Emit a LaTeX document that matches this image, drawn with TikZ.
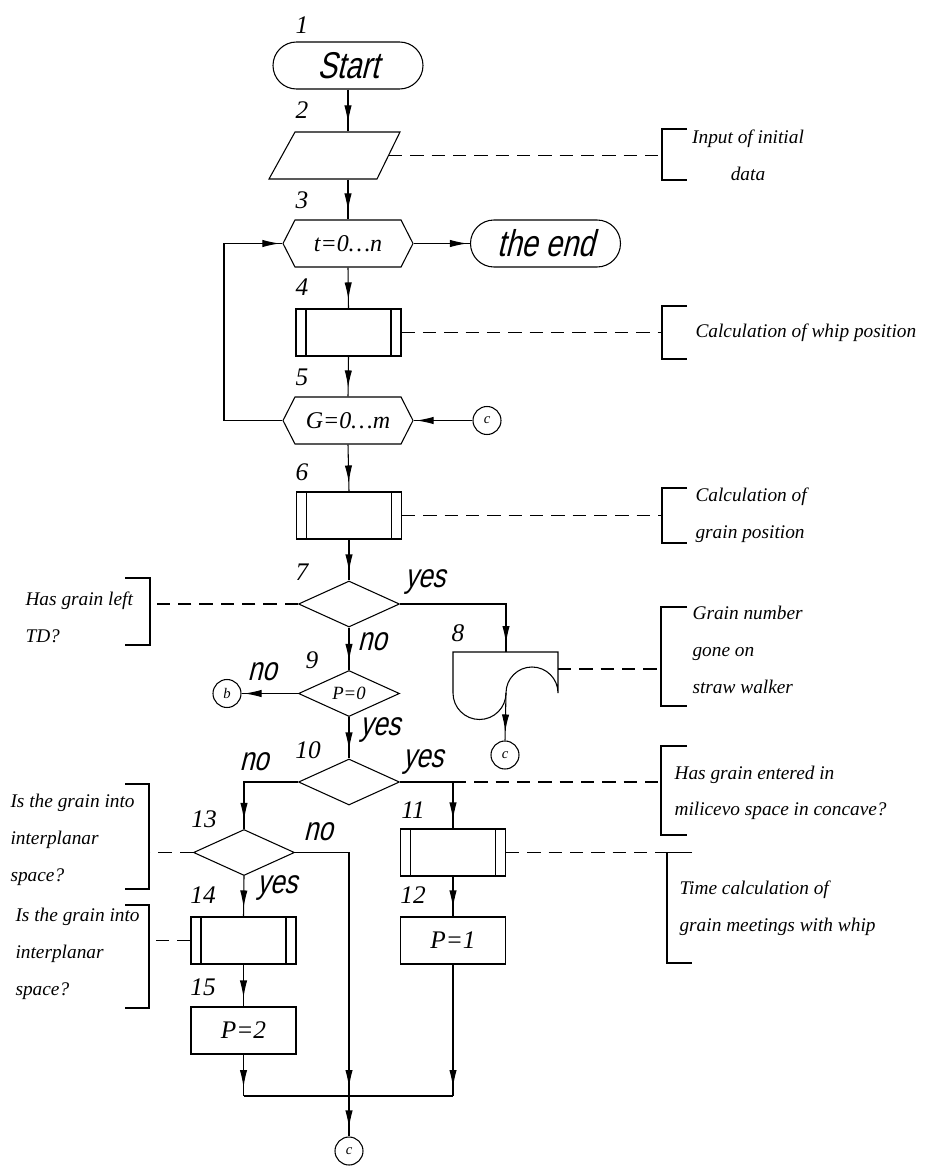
\documentclass[tikz,border=0pt]{standalone}
\usepackage{fontspec}
\setmainfont{Liberation Serif}
\newfontfamily\gostfont[FakeSlant=0.25,FakeStretch=0.78]{Liberation Sans}
\usetikzlibrary{shapes.geometric,shapes.misc,shapes.symbols,arrows.meta,decorations.markings}

\tikzset{
  term/.style={draw, rounded rectangle, minimum width=112.5pt, minimum height=35.25pt, inner sep=0pt, font=\gostfont\fontsize{28}{28}\selectfont},
  hexa/.style={draw, signal, signal to=west and east, signal pointer angle=126, minimum width=97.5pt, minimum height=35.25pt, inner sep=0pt, font=\fontsize{18}{18}\selectfont\itshape},
  dec/.style={draw, diamond, aspect=2.2, minimum width=75.75pt, minimum height=34.5pt, inner sep=0pt, font=\fontsize{14}{14}\selectfont\itshape},
  proc/.style={draw, rectangle, minimum width=78.75pt, minimum height=35.25pt, inner sep=0pt,
    path picture={
      \draw ([xshift=7.5pt]path picture bounding box.north west) -- ([xshift=7.5pt]path picture bounding box.south west);
      \draw ([xshift=-7.5pt]path picture bounding box.north east) -- ([xshift=-7.5pt]path picture bounding box.south east);}},
  oper/.style={draw, rectangle, minimum width=78.75pt, minimum height=35.25pt, inner sep=0pt, font=\fontsize{19}{19}\selectfont\itshape},
  conn/.style={draw, circle, minimum size=21pt, inner sep=0pt, font=\fontsize{11}{11}\selectfont\itshape},
  num/.style={font=\fontsize{19}{19}\selectfont\itshape},
  ans/.style={font=\gostfont\fontsize{25}{25}\selectfont},
  note/.style={anchor=west, align=left, inner sep=0pt, font=\fontsize{14.5}{27.5}\selectfont\itshape},
  remark/.style={dash pattern=on 10pt off 6pt},
  flow/.style={postaction={decorate}, decoration={markings, mark=at position -6.5pt with {\arrow{Latex[length=13pt,width=5.5pt]}}}},
  hflow/.style={postaction={decorate}, decoration={markings, mark=at position -2pt with {\arrow{Latex[length=13pt,width=5.5pt]}}}},
}

\begin{document}
\begin{tikzpicture}[x=0.75pt, y=-0.75pt, line width=0.8pt]
\useasboundingbox (0,0) rectangle (924,1166);
\node[term] at (348,65.5) (start) {Start};
\node[minimum width=81pt, minimum height=35.25pt, inner sep=0pt] at (334.5,155.5) (input) {};
\draw (295,132) -- (400,132) -- (377,179) -- (269,179) -- cycle;
\node[hexa] at (348,243.5) (tloop) {t=0\dots n};
\node[term] at (545.5,243.5) (end) {the end};
\node[proc] at (348.5,332.5) (whip) {};
\node[hexa] at (348,420.5) (gloop) {G=0\dots m};
\node[conn] at (487,420.5) (c1) {c};
\node[proc] at (349,515.5) (grain) {};
\node[dec] at (349,604) (left) {};
\node[dec] at (349,693.5) (pzero) {P=0};
\node[conn] at (227,693.5) (b) {b};
\node[dec] at (349,782) (enter) {};
\node[proc] at (453,852.5) (meet) {};
\node[oper] at (453,940.5) (pone) {P=1};
\node[dec] at (244,852.5) (inter) {};
\node[proc] at (243.5,940.5) (inter2) {};
\node[oper] at (243.5,1030.5) (ptwo) {P=2};
\node[conn] at (505,755) (c2) {c};
\node[conn] at (349,1151) (c3) {c};

\draw (506,693) arc[start angle=180, end angle=0, radius=19.5pt] -- (558,652) -- (453,652) -- (453,693) arc[start angle=180, end angle=360, radius=19.875pt];
\coordinate (walk) at (506,652);
\coordinate (walkout) at (506,693);
\coordinate (walkside) at (558,669);

\node[num] at (302,25) (l1) {1};
\node[num] at (302,110) (l2) {2};
\node[num] at (302,200) (l3) {3};
\node[num] at (302,287) (l4) {4};
\node[num] at (302,377) (l5) {5};
\node[num] at (302,472) (l6) {6};
\node[num] at (302,572) (l7) {7};
\node[num] at (458,633) (l8) {8};
\node[num] at (312,660) (l9) {9};
\node[num] at (308,750) (l10) {10};
\node[num] at (413,810) (l11) {11};
\node[num] at (413,895) (l12) {12};
\node[num] at (204,819) (l13) {13};
\node[num] at (203,895) (l14) {14};
\node[num] at (203,987) (l15) {15};

\node[ans] at (425,582) (y7) {yes};
\node[ans] at (372,642) (n7) {no};
\node[ans] at (262,672) (n9) {no};
\node[ans] at (380,730) (y9) {yes};
\node[ans] at (254,762) (n10) {no};
\node[ans] at (423,762) (y10) {yes};
\node[ans] at (318,832) (n13) {no};
\node[ans] at (277,888) (y13) {yes};

\draw[flow] (start.south) -- (start.south |- input.north);
\draw[flow] (start.south |- input.south) -- (tloop.north);
\draw[hflow] (tloop.east) -- (end.west);
\draw[flow] (tloop.south) -- (whip.north);
\draw[flow] (whip.south) -- (gloop.north);
\draw[hflow] (c1.west) -- (gloop.east);
\coordinate (back) at (224,420.5);
\draw[hflow] (gloop.west) -- (back) |- (tloop.west);
\draw[flow] (gloop.south) -- (grain.north);
\draw[flow] (grain.south) -- (left.north);
\draw[flow] (left.east) -| (walk);
\draw[flow] (walkout) -- (c2.north);
\draw[flow] (left.south) -- (pzero.north);
\draw[hflow] (pzero.west) -- (b.east);
\draw[flow] (pzero.south) -- (enter.north);
\draw[flow] (enter.west) -| (inter.north);
\draw[flow] (enter.east) -| (meet.north);
\draw[flow] (meet.south) -- (pone.north);
\draw[flow] (inter.south) -- (inter2.north);
\draw[flow] (inter2.south) -- (ptwo.north);
\coordinate (jl) at (243.5,1096);
\coordinate (jm) at (349,1096);
\coordinate (jr) at (453,1096);
\draw[flow] (inter.east) -| (jm);
\draw[flow] (ptwo.south) -- (jl);
\draw[flow] (pone.south) -- (jr);
\draw (jl) -- (jr);
\draw[flow] (jm) -- (c3.north);

\coordinate (r2) at (662,155.5);
\draw[remark] (input.east) -- (r2);
\draw (687,129) -- (662,129) -- (662,180) -- (687,180);
\node[note, anchor=center, align=center] at (748,155) (n2) {Input of initial\\data};

\coordinate (r4) at (662,332.5);
\draw[remark] (whip.east) -- (r4);
\draw (687,306) -- (662,306) -- (662,359) -- (687,359);
\node[note] at (695,332.5) (n4) {Calculation of whip position};

\coordinate (r6) at (662,515.5);
\draw[remark] (grain.east) -- (r6);
\draw (687,488) -- (662,488) -- (662,543) -- (687,543);
\node[note] at (695,515) (n6) {Calculation of\\grain position};

\coordinate (r7) at (150,604);
\draw[remark] (left.west) -- (r7);
\draw (125,578) -- (150,578) -- (150,645) -- (125,645);
\node[note] at (25,617.5) (n7) {Has grain left\\TD?};

\coordinate (r8) at (661,669);
\draw[remark] (walkside) -- (r8);
\draw (687,607) -- (661,607) -- (661,706) -- (687,706);
\node[note] at (692,650) (n8) {Grain number\\gone on\\straw walker};

\coordinate (r10) at (661,782);
\draw[remark] (enter.east -| meet.north) -- (r10);
\draw (687,746) -- (661,746) -- (661,835) -- (687,835);
\node[note] at (674,793) (n10) {Has grain entered in\\milicevo space in concave?};

\coordinate (r11) at (667,852.5);
\draw[remark] (meet.east) -- (r11);
\draw (692,852.5) -- (667,852.5) -- (667,963) -- (692,963);
\node[note] at (679,908) (n11) {Time calculation of\\grain meetings with whip};

\coordinate (r13) at (149,852.5);
\draw[remark] (inter.west) -- (r13);
\draw (125,784) -- (149,784) -- (149,889) -- (125,889);
\node[note] at (10,840) (n13) {Is the grain into\\interplanar\\space?};

\coordinate (r14) at (149,940.5);
\draw[remark] (inter2.west) -- (r14);
\draw (125,905) -- (149,905) -- (149,1008) -- (125,1008);
\node[note] at (15,954) (n14) {Is the grain into\\interplanar\\space?};
\end{tikzpicture}
\end{document}
